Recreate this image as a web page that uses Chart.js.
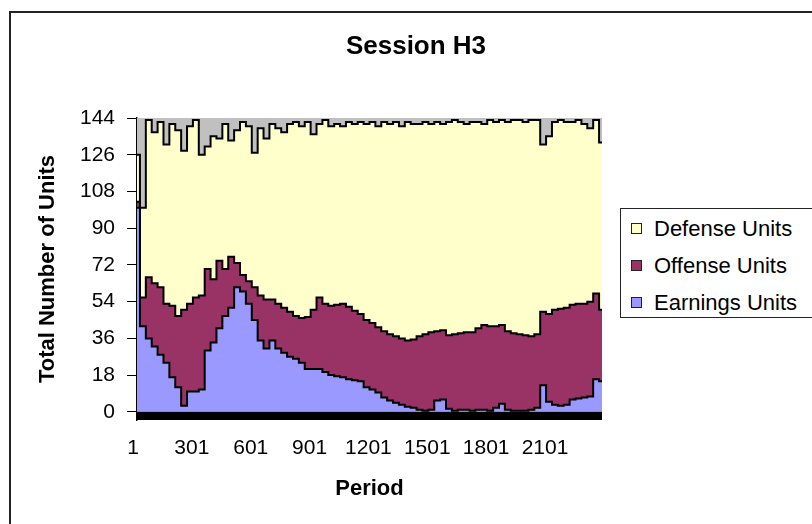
<!DOCTYPE html>
<html>
<head>
<meta charset="utf-8">
<script src="https://cdn.jsdelivr.net/npm/chart.js@4.4.1/dist/chart.umd.min.js"></script>
<style>
  html, body { margin: 0; padding: 0; background: #fff; overflow: hidden; }
  #wrap { position: relative; width: 812px; height: 524px; font-family: 'Liberation Sans', Arial, sans-serif; }
  #frame { position: absolute; left: 9px; top: 11px; width: 900px; height: 600px; border: 2px solid #222; }
  #chart { position: absolute; left: 0; top: 0; }
  #title { position: absolute; left: 0; top: 30px; width: 832px; line-height: 30px; text-align: center; font-weight: bold; font-size: 26px; color: #000; }
  #legend { position: absolute; left: 620px; top: 208px; width: 210px; height: 110px; border: 1px solid #222; background: #fff; box-sizing: border-box; padding-top: 1px; }
  .item { height: 37px; line-height: 37px; font-size: 22px; color: #000; white-space: nowrap; }
  .sw { display: inline-block; width: 9px; height: 9px; border: 1px solid #222; margin: 0 12px 0 10px; vertical-align: middle; position: relative; top: -2px; }
</style>
</head>
<body>
<div id="wrap">
  <div id="frame"></div>
  <canvas id="chart" width="812" height="524"></canvas>
  <div id="title">Session H3</div>
  <div id="legend"></div>
</div>
<script>
// Period of each sample (every 30th period)
const periods = [1,31,61,91,121,151,181,211,241,271,301,331,361,391,421,451,481,511,541,571,
  601,631,661,691,721,751,781,811,841,871,901,931,961,991,1021,1051,1081,1111,1141,1171,
  1201,1231,1261,1291,1321,1351,1381,1411,1441,1471,1501,1531,1561,1591,1621,1651,1681,1711,1741,1771,
  1801,1831,1861,1891,1921,1951,1981,2011,2041,2071,2101,2131,2161,2191,2221,2251,2281,2311,2341,2371];

const earnings = [100,42,36,32,28,24,17,12,3,10, 10,11,30,34,41,47,51,61,59,53,
  45,35,31,35,31,29,27,26,24,21, 21,21,19.5,18,17.5,17,16,15.5,15,12,
  11,9.5,7,5.5,4.5,3.5,2.5,2,1,0.5, 1,5.5,6,1.5,0.5,1,1,0.5,1,1,
  0.5,2,4,1,0.5,0.5,0.5,1,2,13, 5,3.5,3,3.5,6,6.5,7,7.5,16,15];

const offense = [3,14,30,31,33,29,35,35,47,43, 46,46,40,31,33,23,25,12,8,11,
  16,22,24,20,22,22,22,21,22,25.5, 29,35,33.5,34,35,36,35.5,34,33,33,
  32.5,32,32.5,32.5,32.5,32.5,32.5,33.5,36,37.5, 38,34,34,36,37.5,37.5,38,38.5,40,41.5,
  41.5,40,38.5,38.5,38,37.5,37,36,36,36, 43,46.5,47.5,47.5,46.5,46.5,46,46.5,42,35];

const defense = [23,44,77,74,81,78,89,91,78,87, 87,69,60,70,60,71,57,65,75,76,
  66,82,79,86,86,86,92,95,94,95.5, 86,85,90,88,88.5,87,90.5,91.5,94,96,
  98.5,98.5,102.5,103,105,104,107,105.5,104,104, 102,102.5,101,104.5,105,103.5,102,103,101,98.5,
  101,100,100.5,102.5,104.5,105,104.5,106,105,82, 87,92,92.5,91,89.5,90,88,85,85,82];

const xTicks = [1, 301, 601, 901, 1201, 1501, 1801, 2101];
const yTicks = [0, 18, 36, 54, 72, 90, 108, 126, 144];

const font = "'Liberation Sans', Arial, sans-serif";
const pts = arr => arr.map((v, i) => ({ x: periods[i], y: v }));

// grey plot background above 0, black band below 0
const plotBg = {
  id: 'plotBg',
  beforeDatasetsDraw(chart) {
    const { ctx, chartArea: a, scales: { y } } = chart;
    const zero = y.getPixelForValue(0);
    ctx.save();
    ctx.fillStyle = '#c0c0c0';
    ctx.fillRect(a.left, a.top, a.right - a.left, zero - a.top);
    ctx.restore();
  },
  afterDatasetsDraw(chart) {
    const { ctx, chartArea: a, scales: { y } } = chart;
    const zero = y.getPixelForValue(0);
    ctx.save();
    ctx.fillStyle = '#000';
    ctx.fillRect(a.left, zero, a.right - a.left, a.bottom - zero);
    ctx.restore();
  }
};

const chart = new Chart(document.getElementById('chart'), {
  type: 'line',
  data: {
    datasets: [
      { label: 'Earnings Units', data: pts(earnings), backgroundColor: '#9999ff', fill: 'origin' },
      { label: 'Offense Units', data: pts(offense), backgroundColor: '#993366', fill: '-1' },
      { label: 'Defense Units', data: pts(defense), backgroundColor: '#ffffcc', fill: '-1' }
    ]
  },
  options: {
    responsive: false,
    animation: false,
    elements: {
      line: { borderColor: '#000', borderWidth: 2, tension: 0, stepped: 'middle' },
      point: { radius: 0 }
    },
    layout: { padding: { left: 0, right: 210, top: 118, bottom: 0 } },
    plugins: {
      legend: { display: false },
      title: { display: false },
      tooltip: { enabled: false }
    },
    scales: {
      x: {
        type: 'linear',
        min: 1,
        max: 2371,
        afterBuildTicks: s => { s.ticks = xTicks.map(v => ({ value: v })); },
        afterFit: s => { s.height = 104; },
        ticks: { font: { family: font, size: 21 }, color: '#000', padding: 16, labelOffset: -4, maxRotation: 0, autoSkip: false, callback: v => String(v) },
        grid: { display: false, drawTicks: false },
        border: { display: false },
        title: { display: true, text: 'Period', color: '#000', font: { family: font, size: 22, weight: 'bold' }, padding: { top: 0, bottom: 22 } }
      },
      y: {
        stacked: true,
        min: -4,
        max: 144,
        afterBuildTicks: s => { s.ticks = yTicks.map(v => ({ value: v })); },
        afterFit: s => { s.width = 137; },
        ticks: { font: { family: font, size: 21 }, color: '#000', padding: 12, callback: v => String(v) },
        grid: { drawOnChartArea: false, tickLength: 10, color: '#000' },
        border: { color: '#000', width: 1.5 },
        title: { display: true, text: 'Total Number of Units', color: '#000', font: { family: font, size: 22, weight: 'bold' }, padding: { top: 35, bottom: 0 } }
      }
    }
  },
  plugins: [plotBg]
});

// legend box, listed top series first
const legend = document.getElementById('legend');
chart.data.datasets.slice().reverse().forEach(ds => {
  const row = document.createElement('div');
  row.className = 'item';
  row.innerHTML = '<span class="sw" style="background:' + ds.backgroundColor + '"></span>' + ds.label;
  legend.appendChild(row);
});
</script>
</body>
</html>
